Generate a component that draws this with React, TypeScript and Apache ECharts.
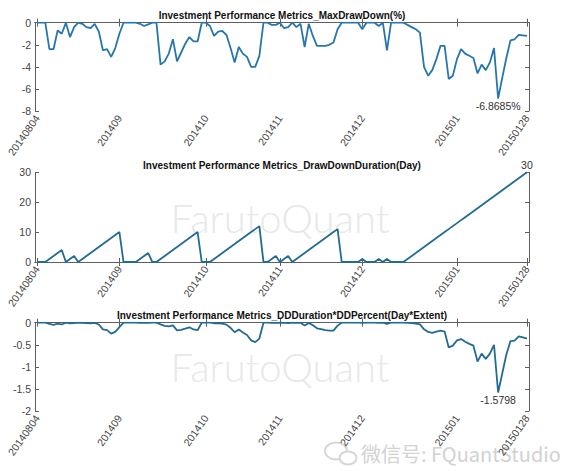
import React, { useEffect, useRef } from "react";
import * as echarts from "echarts";

// ---------- data ----------
const HOLIDAYS = ["20140908", "20141001", "20141002", "20141003", "20141006", "20141007", "20150101", "20150102"];

function buildTradingDates(): string[] {
  const out: string[] = [];
  const d = new Date(2014, 7, 4);
  const end = new Date(2015, 0, 28);
  while (d <= end) {
    const wd = d.getDay();
    const s =
      String(d.getFullYear()) +
      String(d.getMonth() + 1).padStart(2, "0") +
      String(d.getDate()).padStart(2, "0");
    if (wd !== 0 && wd !== 6 && !HOLIDAYS.includes(s)) out.push(s);
    d.setDate(d.getDate() + 1);
  }
  return out;
}
const dates = buildTradingDates();

const tickIndex = [0, 20, 41, 59, 79, 102, 119];
const tickLabels = ["20140804", "201409", "201410", "201411", "201412", "201501", "20150128"];

const maxDrawDown = [
  0, 0, 0, -2.4, -2.4, -0.7, -1.0, 0, -1.3, -0.4,
  0, -0.1, -0.4, -0.5, -0.1, -0.8, -2.5, -2.4, -3.1, -2.3,
  -1.0, 0, 0, 0, 0, -0.1, -0.3, -0.15, 0, 0,
  -3.8, -3.5, -2.8, -1.5, -3.5, -2.7, -1.9, -1.3, -1.7, -1.7,
  0, 0, -0.3, -1.2, -0.8, -0.75, -1.1, -2.3, -3.6, -2.2,
  -2.8, -3.1, -4.0, -4.0, -3.0, 0, 0, -0.2, -0.2, 0,
  -0.5, -0.4, 0, -0.4, -0.1, -2.2, -0.1, -1.2, -2.1, -2.1,
  -2.1, -2.0, -1.8, -0.6, 0, 0, 0, 0, 0, -0.6,
  0, 0, 0, -0.3, 0, -2.5, 0, 0, 0, 0,
  -0.2, -0.4, -0.6, -0.9, -4.0, -4.8, -4.3, -3.3, -2.1, -2.1,
  -5.1, -4.8, -3.3, -2.4, -2.8, -3.0, -3.2, -4.6, -3.8, -4.3,
  -3.6, -2.3, -6.8685, -5.0, -3.2, -1.6, -1.5, -1.1, -1.15, -1.2,
];

const drawDownDuration = [
  0, 0, 0, 1, 2, 3, 4, 0, 1, 2,
  0, 1, 2, 3, 4, 5, 6, 7, 8, 9,
  10, 0, 0, 0, 0, 1, 2, 3, 0, 0,
  1, 2, 3, 4, 5, 6, 7, 8, 9, 10,
  0, 0, 0, 1, 2, 3, 4, 5, 6, 7,
  8, 9, 10, 11, 12, 0, 0, 1, 2, 0,
  1, 2, 0, 1, 2, 3, 4, 5, 6, 7,
  8, 9, 10, 11, 0, 0, 0, 0, 0, 1,
  0, 0, 0, 1, 0, 1, 0, 0, 0, 0,
  1, 2, 3, 4, 5, 6, 7, 8, 9, 10,
  11, 12, 13, 14, 15, 16, 17, 18, 19, 20,
  21, 22, 23, 24, 25, 26, 27, 28, 29, 30,
];

const ddProduct = [
  0, 0, 0, -0.024, -0.048, -0.021, -0.04, 0, -0.013, -0.008,
  0, -0.001, -0.008, -0.015, -0.004, -0.04, -0.15, -0.168, -0.248, -0.207,
  -0.1, 0, 0, 0, 0, -0.001, -0.006, -0.0045, 0, 0,
  -0.038, -0.07, -0.084, -0.06, -0.175, -0.162, -0.133, -0.104, -0.153, -0.17,
  0, 0, 0, -0.012, -0.016, -0.0225, -0.044, -0.115, -0.216, -0.154,
  -0.224, -0.279, -0.4, -0.44, -0.36, 0, 0, -0.002, -0.004, 0,
  -0.005, -0.008, 0, -0.004, -0.002, -0.066, -0.004, -0.06, -0.126, -0.147,
  -0.168, -0.18, -0.18, -0.066, 0, 0, 0, 0, 0, -0.006,
  0, 0, 0, -0.003, 0, -0.025, 0, 0, 0, 0,
  -0.002, -0.008, -0.018, -0.036, -0.15, -0.21, -0.23, -0.2, -0.18, -0.2,
  -0.56, -0.52, -0.4, -0.37, -0.43, -0.48, -0.52, -0.88, -0.7, -0.82,
  -0.7, -0.5, -1.5798, -1.15, -0.72, -0.416, -0.405, -0.308, -0.334, -0.36,
];

const titles = [
  "Investment Performance Metrics_MaxDrawDown(%)",
  "Investment Performance Metrics_DrawDownDuration(Day)",
  "Investment Performance Metrics_DDDuration*DDPercent(Day*Extent)",
];

// ---------- layout ----------
const FONT = "Liberation Sans, Arial, Helvetica, sans-serif";
const LINE_COLORS = ["#2676ae", "#226c93", "#226c93"];
const AXIS_COLOR = "#5f5f5f";
const grids = [
  { left: 35, right: 54, top: 22.7, height: 88.3 },
  { left: 35, right: 54, top: 172.3, height: 89.7 },
  { left: 35, right: 54, top: 322.7, height: 88.3 },
];
const yRanges = [
  { min: -8, max: 0, interval: 2 },
  { min: 0, max: 30, interval: 10 },
  { min: -2, max: 0, interval: 0.5 },
];
const titleY = [15.5, 165.5, 315.7];

function idxOfMin(a: number[]) {
  let k = 0;
  a.forEach((v, i) => { if (v < a[k]) k = i; });
  return k;
}
function idxOfMax(a: number[]) {
  let k = 0;
  a.forEach((v, i) => { if (v > a[k]) k = i; });
  return k;
}

const isTick = (i: number) => tickIndex.includes(i);

function buildOption() {
  const axisLine = { show: true, lineStyle: { color: AXIS_COLOR, width: 1 } };
  const xAxis: any[] = [];
  const yAxis: any[] = [];
  grids.forEach((_, g) => {
    xAxis.push({
      type: "category",
      gridIndex: g,
      data: dates,
      boundaryGap: true,
      position: "bottom",
      axisLine,
      axisTick: { show: true, inside: true, length: 4, alignWithLabel: true, interval: (i: number) => isTick(i), lineStyle: { color: AXIS_COLOR } },
      axisLabel: {
        interval: (i: number) => isTick(i),
        rotate: 55,
        fontSize: 10.5,
        color: "#444",
        fontFamily: FONT,
        margin: 5,
        formatter: (_v: string, i: number) => {
          const k = tickIndex.indexOf(i);
          return k >= 0 ? tickLabels[k] : "";
        },
      },
      splitLine: { show: false },
    });
    xAxis.push({
      type: "category",
      gridIndex: g,
      data: dates,
      boundaryGap: true,
      position: "top",
      axisLine,
      axisTick: { show: true, inside: true, length: 4, alignWithLabel: true, interval: (i: number) => isTick(i), lineStyle: { color: AXIS_COLOR } },
      axisLabel: { show: false },
      splitLine: { show: false },
    });
    const r = yRanges[g];
    yAxis.push({
      type: "value",
      gridIndex: g,
      min: r.min,
      max: r.max,
      interval: r.interval,
      position: "left",
      axisLine,
      axisTick: { show: true, inside: true, length: 4, lineStyle: { color: AXIS_COLOR } },
      axisLabel: { fontSize: 10.5, color: "#444", fontFamily: FONT, margin: 4 },
      splitLine: { show: false },
    });
    yAxis.push({
      type: "value",
      gridIndex: g,
      min: r.min,
      max: r.max,
      interval: r.interval,
      position: "right",
      axisLine,
      axisTick: { show: true, inside: true, length: 4, lineStyle: { color: AXIS_COLOR } },
      axisLabel: { show: false },
      splitLine: { show: false },
    });
  });

  const labelStyle = { show: true, fontSize: 10.5, color: "#333", fontFamily: FONT, distance: 2 };
  const mddMin = idxOfMin(maxDrawDown);
  const durMax = idxOfMax(drawDownDuration);
  const prodMin = idxOfMin(ddProduct);

  const mkSeries = (g: number, data: number[], mark: any) => ({
    type: "line",
    xAxisIndex: g * 2,
    yAxisIndex: g * 2,
    data,
    showSymbol: false,
    symbol: "none",
    lineStyle: { color: LINE_COLORS[g], width: 1.8 },
    z: 3,
    markPoint: { symbol: "circle", symbolSize: 0, silent: true, data: [mark] },
  });

  const series = [
    mkSeries(0, maxDrawDown, {
      coord: [dates[mddMin], maxDrawDown[mddMin]],
      label: { ...labelStyle, position: "bottom", formatter: String(maxDrawDown[mddMin]) + "%" },
    }),
    mkSeries(1, drawDownDuration, {
      coord: [dates[durMax], drawDownDuration[durMax]],
      label: { ...labelStyle, position: "top", formatter: String(drawDownDuration[durMax]) },
    }),
    mkSeries(2, ddProduct, {
      coord: [dates[prodMin], ddProduct[prodMin]],
      label: { ...labelStyle, position: "bottom", formatter: String(ddProduct[prodMin]) },
    }),
  ];

  const graphic: any[] = [];
  // watermarks
  [218, 367].forEach((cy) => {
    graphic.push({
      type: "text",
      x: 280,
      y: cy,
      z: 0,
      silent: true,
      style: {
        text: "FarutoQuant",
        fontSize: 40,
        fontWeight: 300,
        fontFamily: "Lato, Open Sans, " + FONT,
        fill: "#e8e8e8",
        align: "center",
        verticalAlign: "middle",
      },
    });
  });
  graphic.push({
    type: "ellipse",
    shape: { cx: 336, cy: 451, rx: 11, ry: 8.5 },
    style: { fill: "none", stroke: "#d6d6d6", lineWidth: 2 },
    silent: true,
  });
  graphic.push({
    type: "ellipse",
    shape: { cx: 348, cy: 458, rx: 8.5, ry: 6.5 },
    style: { fill: "#fff", stroke: "#d6d6d6", lineWidth: 2 },
    silent: true,
  });
  graphic.push({
    type: "text",
    x: 361,
    y: 453,
    silent: true,
    style: {
      text: "微信号: FQuantStudio",
      fontSize: 20,
      fontFamily: "Noto Sans CJK SC, Liberation Sans, sans-serif",
      fill: "#d2d2d2",
      align: "left",
      verticalAlign: "middle",
    },
  });
  // titles
  titles.forEach((t, g) => {
    graphic.push({
      type: "text",
      x: 282,
      y: titleY[g],
      z: 10,
      style: {
        text: t,
        fontSize: 10,
        fontWeight: "bold",
        fontFamily: FONT,
        fill: "#111",
        align: "center",
        verticalAlign: "middle",
      },
    });
  });

  return {
    animation: false,
    backgroundColor: "#ffffff",
    textStyle: { fontFamily: FONT },
    grid: grids,
    xAxis,
    yAxis,
    series,
    graphic,
  };
}

export default function App() {
  const ref = useRef<HTMLDivElement | null>(null);
  useEffect(() => {
    if (!ref.current) return;
    const chart = echarts.init(ref.current, null, { renderer: "svg" });
    chart.setOption(buildOption() as any);
    return () => chart.dispose();
  }, []);
  return (
    <div
      ref={ref}
      style={{ position: "fixed", left: 0, top: 0, width: 583, height: 471, background: "#fff" }}
    />
  );
}
